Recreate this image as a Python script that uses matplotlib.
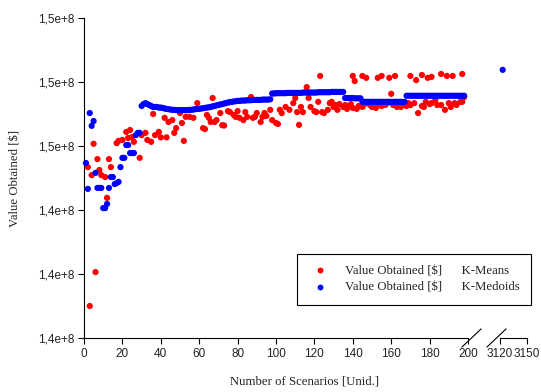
import matplotlib
matplotlib.use("Agg")
import matplotlib.pyplot as plt
from matplotlib.ticker import FuncFormatter
from matplotlib.lines import Line2D
import numpy as np

plt.rcParams["font.family"] = ["Liberation Sans", "DejaVu Sans"]
plt.rcParams["font.size"] = 8.5

# ---------------- data (values in units of 1e8) ----------------
blue_x = list(range(1, 199)) + [3123]
blue_y = [
    # 1-29
    1.4547, 1.4466, 1.4703, 1.4663, 1.4678, 1.4516, 1.4469, 1.4469, 1.4469, 1.4406,
    1.4406, 1.4419, 1.4469, 1.4503, 1.4503, 1.4481, 1.4484, 1.4488, 1.4534, 1.4563,
    1.4563, 1.4603, 1.4603, 1.4578, 1.4578, 1.4578, 1.4634, 1.4641, 1.4641,
    # 30-40
    1.4725, 1.4731, 1.4734, 1.4731, 1.4728, 1.4725, 1.4722, 1.4722, 1.4722, 1.4720, 1.4720,
    # 41-50
    1.4719, 1.4717, 1.4716, 1.4715, 1.4714, 1.4713, 1.4713, 1.4712, 1.4712, 1.4712,
    # 51-60
    1.4712, 1.4712, 1.4712, 1.4712, 1.4713, 1.4713, 1.4714, 1.4715, 1.4716, 1.4716,
    # 61-70
    1.4717, 1.4718, 1.4719, 1.4720, 1.4721, 1.4722, 1.4724, 1.4725, 1.4727, 1.4728,
    # 71-80
    1.4730, 1.4731, 1.4733, 1.4734, 1.4736, 1.4737, 1.4738, 1.4739, 1.4740, 1.4741,
    # 81-90
    1.4741, 1.4742, 1.4742, 1.4742, 1.4743, 1.4743, 1.4743, 1.4744, 1.4744, 1.4744,
    # 91-97
    1.4744, 1.4744, 1.4745, 1.4745, 1.4745, 1.4745, 1.4746,
    # 98-135
    1.4764, 1.4764, 1.4765, 1.4765, 1.4765, 1.4765, 1.4765, 1.4765, 1.4766, 1.4766,
    1.4766, 1.4766, 1.4766, 1.4766, 1.4766, 1.4766, 1.4767, 1.4767, 1.4767, 1.4767,
    1.4767, 1.4767, 1.4767, 1.4767, 1.4768, 1.4768, 1.4768, 1.4768, 1.4768, 1.4768,
    1.4768, 1.4769, 1.4769, 1.4769, 1.4769, 1.4769, 1.4769, 1.4769,
    # 136-144
    1.4750, 1.4750, 1.4750, 1.4750, 1.4750, 1.4749, 1.4749, 1.4749, 1.4749,
    # 145-167
    1.4738, 1.4738, 1.4738, 1.4738, 1.4738, 1.4738, 1.4738, 1.4738, 1.4738, 1.4738,
    1.4738, 1.4738, 1.4738, 1.4738, 1.4738, 1.4738, 1.4738, 1.4738, 1.4738, 1.4738,
    1.4738, 1.4738, 1.4738,
    # 168-198
    1.4757, 1.4757, 1.4757, 1.4757, 1.4757, 1.4757, 1.4757, 1.4757, 1.4757, 1.4757,
    1.4757, 1.4757, 1.4757, 1.4757, 1.4757, 1.4757, 1.4757, 1.4757, 1.4757, 1.4757,
    1.4757, 1.4757, 1.4757, 1.4757, 1.4757, 1.4757, 1.4757, 1.4757, 1.4757, 1.4757,
    1.4757,
    # all scenarios
    1.4838,
]

red_x = [2, 3, 4, 5, 6, 7, 8, 9, 11, 12, 13, 14, 17, 18, 20, 22, 23, 24, 25, 26,
         29, 30, 32, 33, 35, 36, 37, 39, 40, 42, 43, 44, 46, 47, 48, 50, 51, 52, 53, 55,
         57, 59, 62, 63, 64, 65, 66, 67, 68, 69, 71, 72, 73, 75, 76, 78, 79, 80, 81, 83,
         84, 85, 87, 88, 89, 90, 92, 93, 94, 95, 97, 98, 100, 101, 102, 103, 105, 107, 109, 110,
         111, 112, 113, 114, 116, 117, 118, 120, 121, 122, 123, 124, 125, 127, 128, 129, 130, 131, 132, 133,
         135, 136, 137, 138, 139, 140, 140, 141, 142, 143, 145, 145, 146, 147, 148, 149, 150, 152, 153, 154,
         155, 155, 157, 158, 159, 160, 161, 162, 163, 165, 166, 168, 169, 170, 170, 172, 173, 174, 176, 176,
         177, 178, 179, 180, 181, 181, 183, 184, 186, 186, 188, 189, 190, 191, 192, 193, 194, 196, 197, 197,
         198]
red_y = [1.4534, 1.4100, 1.4509, 1.4607, 1.4206, 1.4559, 1.4525, 1.4509, 1.4503, 1.4438,
         1.4559, 1.4534, 1.4609, 1.4616, 1.4619, 1.4644, 1.4625, 1.4650, 1.4628, 1.4613,
         1.4563, 1.4634, 1.4641, 1.4619, 1.4613, 1.4700, 1.4634, 1.4644, 1.4627, 1.4688,
         1.4627, 1.4675, 1.4681, 1.4641, 1.4656, 1.4703, 1.4672, 1.4616, 1.4691, 1.4691,
         1.4688, 1.4734, 1.4656, 1.4653, 1.4697, 1.4688, 1.4675, 1.4750, 1.4675, 1.4681,
         1.4703, 1.4665, 1.4664, 1.4709, 1.4706, 1.4697, 1.4691, 1.4709, 1.4688, 1.4681,
         1.4706, 1.4691, 1.4753, 1.4688, 1.4691, 1.4703, 1.4675, 1.4691, 1.4703, 1.4694,
         1.4713, 1.4681, 1.4672, 1.4669, 1.4713, 1.4703, 1.4722, 1.4713, 1.4734, 1.4750,
         1.4706, 1.4666, 1.4722, 1.4706, 1.4784, 1.4750, 1.4722, 1.4709, 1.4706, 1.4738,
         1.4819, 1.4706, 1.4703, 1.4713, 1.4734, 1.4738, 1.4722, 1.4728, 1.4713, 1.4731,
         1.4722, 1.4728, 1.4716, 1.4725, 1.4731, 1.4819, 1.4719, 1.4803, 1.4716, 1.4725,
         1.4819, 1.4722, 1.4731, 1.4813, 1.4734, 1.4728, 1.4722, 1.4719, 1.4813, 1.4731,
         1.4819, 1.4725, 1.4728, 1.4734, 1.4813, 1.4763, 1.4728, 1.4819, 1.4722, 1.4722,
         1.4731, 1.4725, 1.4734, 1.4819, 1.4728, 1.4734, 1.4806, 1.4703, 1.4822, 1.4725,
         1.4722, 1.4738, 1.4813, 1.4731, 1.4816, 1.4734, 1.4744, 1.4728, 1.4825, 1.4728,
         1.4713, 1.4819, 1.4734, 1.4722, 1.4819, 1.4734, 1.4728, 1.4738, 1.4825, 1.4738,
         1.4753]

y_ticks = [1.40, 1.42, 1.44, 1.46, 1.48, 1.50]
x_ticks_main = [0, 20, 40, 60, 80, 100, 120, 140, 160, 180, 200]
x_ticks_tail = [3120, 3150]
label_means = "Value Obtained [$]      K-Means"
label_medoids = "Value Obtained [$]      K-Medoids"
x_label = "Number of Scenarios [Unid.]"
y_label = "Value Obtained [$]"

SCALE = 1e8
bx = np.array(blue_x)
by = np.array(blue_y) * SCALE
rx = np.array(red_x)
ry = np.array(red_y) * SCALE

# ---------------- figure ----------------
W, H = 541, 392
fig = plt.figure(figsize=(W / 100, H / 100), dpi=100)
fig.patch.set_facecolor("white")

left, right_main, bottom, top = 84, 468, 338, 18
ax1 = fig.add_axes([left / W, (H - bottom) / H, (right_main - left) / W, (bottom - top) / H])
ax2 = fig.add_axes([500 / W, (H - bottom) / H, 27 / W, (bottom - top) / H], sharey=ax1)
ax2.patch.set_alpha(0)

sz = 20
tail = bx > 1000
ax1.scatter(rx, ry, s=sz, color="#ff0000", edgecolors="none", zorder=3, clip_on=False)
ax1.scatter(bx[~tail], by[~tail], s=sz, color="#0000ff", edgecolors="none", zorder=4, clip_on=False)
ax2.scatter(bx[tail], by[tail], s=sz, color="#0000ff", edgecolors="none", zorder=4, clip_on=False)

ax1.set_xlim(0, 200)
ax2.set_xlim(3120, 3150)
ax1.set_ylim(1.40 * SCALE, 1.50 * SCALE)

ax1.set_yticks([v * SCALE for v in y_ticks])
ax1.yaxis.set_major_formatter(FuncFormatter(lambda v, p: f"{v / SCALE:.1f}".replace(".", ",") + "e+8"))
ax1.set_xticks(x_ticks_main)
ax2.set_xticks(x_ticks_tail)

for ax in (ax1, ax2):
    ax.spines["top"].set_visible(False)
    ax.spines["right"].set_visible(False)
    ax.tick_params(direction="out", length=4, width=0.8, color="black",
                   labelcolor="#222222", labelsize=8.5, pad=3)
    for sp in ax.spines.values():
        sp.set_linewidth(0.8)

ax2.spines["left"].set_visible(False)
ax2.tick_params(axis="y", left=False, labelleft=False)

# break marks
for (x0, x1) in [(462, 481), (487, 506)]:
    fig.add_artist(Line2D([x0 / W, x1 / W], [(H - 347) / H, (H - 329) / H],
                          transform=fig.transFigure, color="black", lw=0.8))

serif = ["Liberation Serif", "DejaVu Serif"]
fig.text(305 / W, (H - 381) / H, x_label, ha="center", va="center",
         family=serif, fontsize=9.2, color="#222222")
fig.text(16 / W, (H - 178) / H, y_label, ha="center", va="center", rotation=90,
         family=serif, fontsize=9.2, color="#222222")

handles = [
    Line2D([], [], marker="o", linestyle="none", markersize=4.2, markerfacecolor="#ff0000", markeredgecolor="none"),
    Line2D([], [], marker="o", linestyle="none", markersize=4.2, markerfacecolor="#0000ff", markeredgecolor="none"),
]
leg = fig.legend(handles, [label_means, label_medoids], loc="upper left",
                 bbox_to_anchor=(297 / W, (H - 254) / H),
                 prop=dict(family=serif, size=9.2),
                 frameon=True, fancybox=False, edgecolor="black", framealpha=1,
                 borderpad=0.9, labelspacing=0.35, handlelength=1.8, handletextpad=1.05,
                 borderaxespad=0)
leg.get_frame().set_linewidth(0.8)
for t in leg.get_texts():
    t.set_color("#222222")

fig.savefig("out.png", dpi=100)
